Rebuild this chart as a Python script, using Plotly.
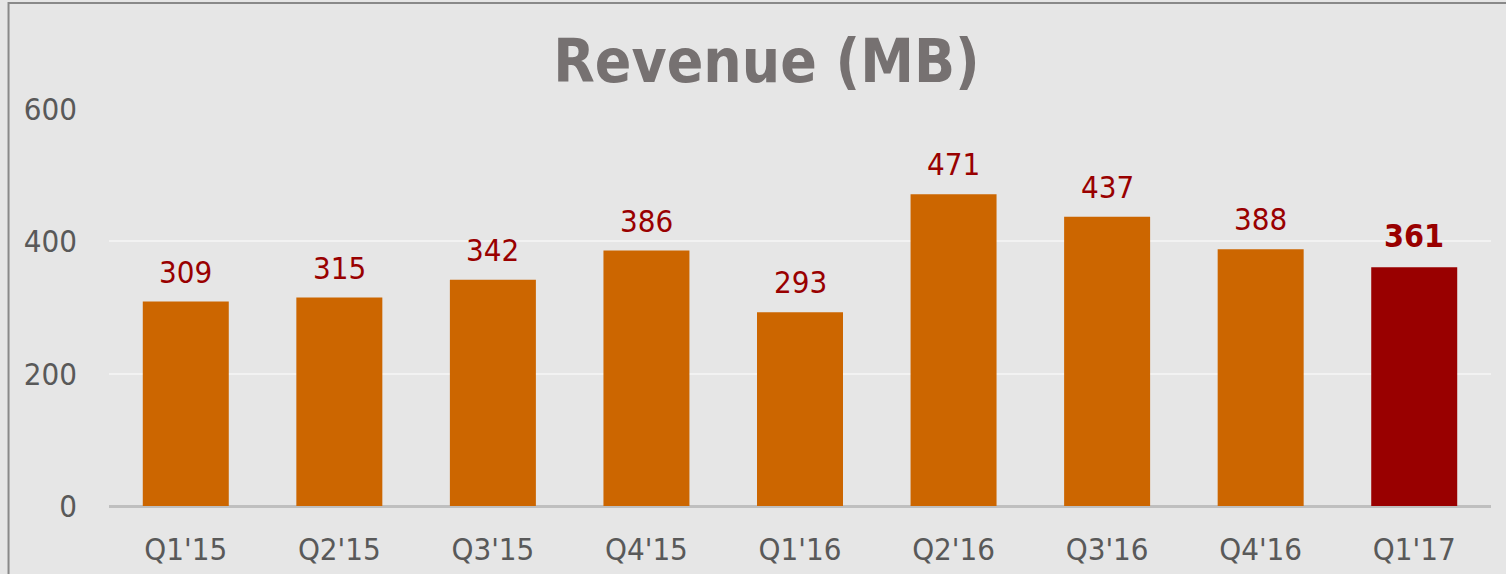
import plotly.graph_objects as go

categories = ["Q1'15", "Q2'15", "Q3'15", "Q4'15", "Q1'16", "Q2'16", "Q3'16", "Q4'16", "Q1'17"]
revenue = [309, 315, 342, 386, 293, 471, 437, 388, 361]
highlight = [False] * 8 + [True]
y_ticks = [0, 200, 400, 600]

ORANGE = "#cc6600"
DARKRED = "#990000"
BG = "#e6e6e6"
FONT = "DejaVu Sans Condensed, DejaVu Sans, sans-serif"

bar_colors = [DARKRED if h else ORANGE for h in highlight]

fig = go.Figure(go.Bar(
    x=categories, y=revenue, marker=dict(color=bar_colors, line=dict(width=0)),
    hoverinfo="x+y",
))

annotations = []
for c, v, h in zip(categories, revenue, highlight):
    annotations.append(dict(
        x=c, y=v, xref="x", yref="y", text=f"<b>{v}</b>" if h else str(v),
        showarrow=False, yanchor="bottom", yshift=10,
        font=dict(family=FONT, size=32 if h else 31, color=DARKRED),
    ))

fig.update_layout(
    width=1506, height=574,
    paper_bgcolor=BG, plot_bgcolor=BG,
    margin=dict(l=109, r=15, t=109, b=68, autoexpand=False),
    bargap=0.44,
    font=dict(family=FONT, size=31, color="#595959"),
    title=dict(text="<b>Revenue (MB)</b>", x=0.509, xanchor="center", xref="container",
               y=0.893, yanchor="middle", yref="container",
               font=dict(family=FONT, size=60, color="#767171")),
    showlegend=False,
    annotations=annotations,
    shapes=[dict(type="rect", xref="paper", yref="paper",
                 x0=-0.0727, x1=1.2, y0=-0.5, y1=1.267,
                 line=dict(color="#898989", width=2), fillcolor="rgba(0,0,0,0)", layer="below")],
)
fig.update_xaxes(automargin=False, showgrid=False, showline=False, ticks="", ticklabelstandoff=22,
                 tickfont=dict(family=FONT, size=31, color="#595959"))
fig.update_yaxes(automargin=False, range=[0, 600], tickvals=y_ticks, showgrid=True,
                 gridcolor="#f2f2f2", gridwidth=2,
                 zeroline=True, zerolinecolor="#bfbfbf", zerolinewidth=3,
                 showline=False, ticks="", ticklabelstandoff=31,
                 tickfont=dict(family=FONT, size=31, color="#595959"))

fig.write_html("out.html", config={"displayModeBar": False},
               post_script="document.body.style.margin='0';document.body.style.background='#e6e6e6';document.body.style.overflow='hidden';")
